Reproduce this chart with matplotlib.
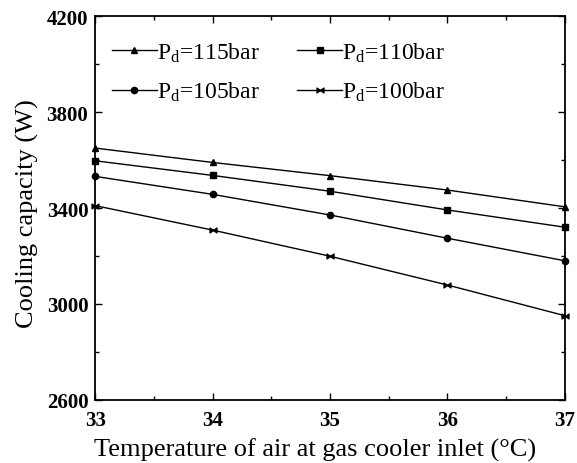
import matplotlib
matplotlib.use('Agg')
import matplotlib.pyplot as plt
from matplotlib.path import Path

plt.rcParams['font.family'] = 'Liberation Serif'
plt.rcParams['mathtext.fontset'] = 'custom'
plt.rcParams['mathtext.rm'] = 'Liberation Serif'
plt.rcParams['mathtext.it'] = 'Liberation Serif'

temp = [33, 34, 35, 36, 37]
cap_115 = [3650, 3590, 3535, 3475, 3405]
cap_110 = [3597, 3536, 3470, 3392, 3320]
cap_105 = [3532, 3457, 3371, 3274, 3180]
cap_100 = [3410, 3308, 3199, 3079, 2951]
labels = ['$\\mathregular{P_d}$=115bar', '$\\mathregular{P_d}$=110bar',
          '$\\mathregular{P_d}$=105bar', '$\\mathregular{P_d}$=100bar']
xticks = [33, 34, 35, 36, 37]
yticks = [2600, 3000, 3400, 3800, 4200]

# bowtie marker for the 100bar series
bowtie = Path([(-1, 0.7), (-1, -0.7), (0, 0), (-1, 0.7), (1, 0.7), (1, -0.7), (0, 0), (1, 0.7)],
              [Path.MOVETO, Path.LINETO, Path.LINETO, Path.CLOSEPOLY,
               Path.MOVETO, Path.LINETO, Path.LINETO, Path.CLOSEPOLY])

fig = plt.figure(figsize=(5.77, 4.64), dpi=100)
ax = fig.add_axes([0.165, 0.136, 0.814, 0.827])

l1, = ax.plot(temp, cap_115, c='black', lw=1, marker='^', ms=5, clip_on=False)
l2, = ax.plot(temp, cap_110, c='black', lw=1, marker='s', ms=5, clip_on=False)
l3, = ax.plot(temp, cap_105, c='black', lw=1, marker='o', ms=4.5, clip_on=False)
l4, = ax.plot(temp, cap_100, c='black', lw=1, marker=bowtie, ms=5, clip_on=False)

ax.set_xlim(33, 37)
ax.set_ylim(2600, 4200)
ax.set_xticks(xticks)
ax.set_xticks([33.5, 34.5, 35.5, 36.5], minor=True)
ax.set_yticks(yticks)
ax.set_yticks([2800, 3200, 3600, 4000], minor=True)
ax.tick_params(which='both', direction='in', top=True, right=True, width=1)
ax.tick_params(which='major', length=5, labelsize=15)
ax.tick_params(axis='x', which='major', pad=7)
ax.tick_params(axis='y', which='major', pad=5)
ax.tick_params(which='minor', length=3)
for lab in ax.get_xticklabels() + ax.get_yticklabels():
	lab.set_fontweight('bold')
for s in ax.spines.values():
	s.set_linewidth(1.3)

ax.set_xlabel('Temperature of air at gas cooler inlet (\u00b0C)', fontsize=19)
ax.xaxis.set_label_coords(0.468, -0.098)
ax.set_ylabel('Cooling capacity (W)', fontsize=19)
ax.yaxis.set_label_coords(-0.12, 0.488)

# column-first fill in matplotlib, so order handles to read row-wise
ax.legend([l1, l3, l2, l4], [labels[0], labels[2], labels[1], labels[3]],
          ncol=2, frameon=False, fontsize=17, loc='upper left',
          bbox_to_anchor=(0.0, 0.98), handlelength=1.9, handletextpad=0.0,
          columnspacing=1.6, labelspacing=0.7, borderaxespad=0.3)

plt.savefig('out.png', dpi=100)
